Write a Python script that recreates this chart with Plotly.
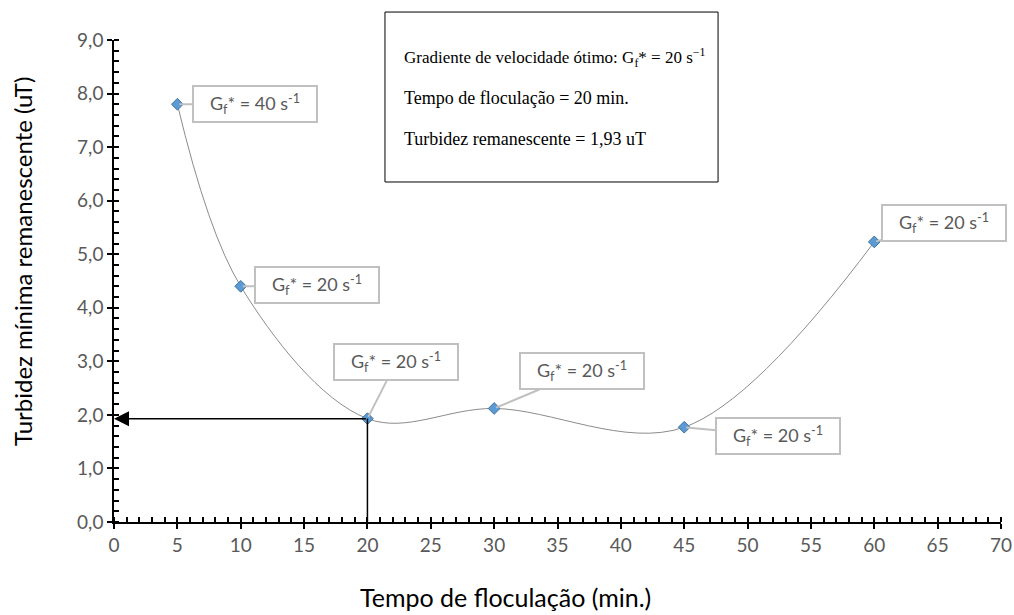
import plotly.graph_objects as go

# ---- data ----
tempo = [5, 10, 20, 30, 45, 60]            # min
turbidez = [7.8, 4.4, 1.93, 2.12, 1.77, 5.23]  # uT
gradiente = [40, 20, 20, 20, 20, 20]       # s^-1
opt_idx = 2
box_lines = [
    "Gradiente de velocidade ótimo: G<sub>f</sub>* = 20 s<sup>−1</sup>",
    "Tempo de floculação = 20 min.",
    "Turbidez remanescente = 1,93 uT",
]
x_title = "Tempo de floculação (min.)"
y_title = "Turbidez mínima remanescente (uT)"

# callout offsets (pixels, relative to point)
callout_offsets = [(78, 0), (76, -1), (29, -57), (88, -37), (94, 9), (70, -19)]

SANS = "Lato, 'Open Sans', sans-serif"
SERIF = "'Liberation Serif', 'Times New Roman', serif"

fig = go.Figure()
fig.add_trace(go.Scatter(
    x=tempo, y=turbidez, mode="lines+markers",
    line=dict(shape="spline", smoothing=1.0, color="#8c8c8c", width=1),
    marker=dict(symbol="diamond", size=9, color="#5b9bd5",
                line=dict(color="#41719c", width=1)),
    hoverinfo="x+y", showlegend=False,
))
# dummy trace for overlay axes (crossing ticks)
fig.add_trace(go.Scatter(x=[0], y=[0], xaxis="x2", yaxis="y2", mode="markers",
                         marker=dict(opacity=0), hoverinfo="skip", showlegend=False))

xmin, xmax, ymin, ymax = 0, 70, 0, 9
fig.update_layout(
    width=1014, height=615,
    margin=dict(l=114, r=13, t=40, b=93, autoexpand=False),
    paper_bgcolor="white", plot_bgcolor="white",
    separators=", ",
    font=dict(family=SANS, color="#595959", size=18),
    xaxis=dict(range=[xmin, xmax], dtick=5, tick0=0, ticks="outside", ticklen=5,
               tickwidth=1.5, tickcolor="black", showline=True, linecolor="black",
               linewidth=1.5, showgrid=False, zeroline=False, automargin=False,
               tickfont=dict(family=SANS, size=19, color="#595959"),
               minor=dict(dtick=1, ticks="inside", ticklen=5, tickwidth=1.5,
                          tickcolor="black", showgrid=False)),
    yaxis=dict(range=[ymin, ymax], dtick=1, tick0=0, tickformat=".1f",
               ticks="outside", ticklen=5, tickwidth=1.5, tickcolor="black",
               showline=True, linecolor="black", linewidth=1.5, showgrid=False,
               zeroline=False, automargin=False,
               tickfont=dict(family=SANS, size=19, color="#595959"),
               minor=dict(dtick=0.2, ticks="inside", ticklen=5, tickwidth=1.5,
                          tickcolor="black", showgrid=False)),
    xaxis2=dict(overlaying="x", anchor="y2", range=[xmin, xmax], dtick=5, tick0=0,
                ticks="inside", ticklen=5, tickwidth=1.5, tickcolor="black",
                automargin=False,
                showticklabels=False, showgrid=False, zeroline=False, showline=False),
    yaxis2=dict(overlaying="y", anchor="x2", range=[ymin, ymax], dtick=1, tick0=0,
                ticks="inside", ticklen=5, tickwidth=1.5, tickcolor="black",
                automargin=False,
                showticklabels=False, showgrid=False, zeroline=False, showline=False),
)

# optimum guide lines
xo, yo = tempo[opt_idx], turbidez[opt_idx]
fig.add_shape(type="line", xref="x", yref="y", x0=xo, x1=xo, y0=0, y1=yo,
              line=dict(color="black", width=1.5))
fig.add_annotation(x=0, y=yo, ax=xo, ay=yo, xref="x", yref="y", axref="x", ayref="y",
                   text="", showarrow=True, arrowhead=2, arrowsize=2,
                   arrowwidth=1.5, arrowcolor="black", standoff=0)

# callouts
for t, v, g, (dx, dy) in zip(tempo, turbidez, gradiente, callout_offsets):
    fig.add_annotation(
        x=t, y=v, xref="x", yref="y", ax=dx, ay=dy,
        text=f"G<sub>f</sub>* = {g} s<sup>-1</sup>",
        showarrow=True, arrowhead=0, arrowwidth=2, arrowcolor="#c0c0c0",
        standoff=2, bordercolor="#c0c0c0", borderwidth=2, borderpad=4,
        bgcolor="white", width=114, height=26,
        font=dict(family=SANS, size=18, color="#595959"),
    )

# info box
fig.add_shape(type="rect", xref="paper", yref="paper",
              x0=0.3055, x1=0.681, y0=0.7054, y1=1.058,
              line=dict(color="black", width=1), fillcolor="white", layer="above")
for line, yp, fs in zip(box_lines, [0.9647, 0.8797, 0.7946], [17, 18, 18]):
    fig.add_annotation(x=0.3245, y=yp, xref="paper", yref="paper", text=line,
                       showarrow=False, xanchor="left", yanchor="middle", align="left",
                       font=dict(family=SERIF, size=fs, color="black"))

# axis titles
fig.add_annotation(x=(505 - 114) / 887, y=(522 - 597) / 482, xref="paper", yref="paper",
                   text=x_title, showarrow=False, xanchor="center", yanchor="middle",
                   font=dict(family=SANS, size=25, color="black"))
fig.add_annotation(x=(22 - 114) / 887, y=(522 - 262) / 482, xref="paper", yref="paper",
                   text=y_title, showarrow=False, textangle=-90, xanchor="center",
                   yanchor="middle", font=dict(family=SANS, size=24, color="black"))

fig.write_html("out.html", config={"displayModeBar": False},
               post_script="document.body.style.margin='0';document.body.style.overflow='hidden';")
